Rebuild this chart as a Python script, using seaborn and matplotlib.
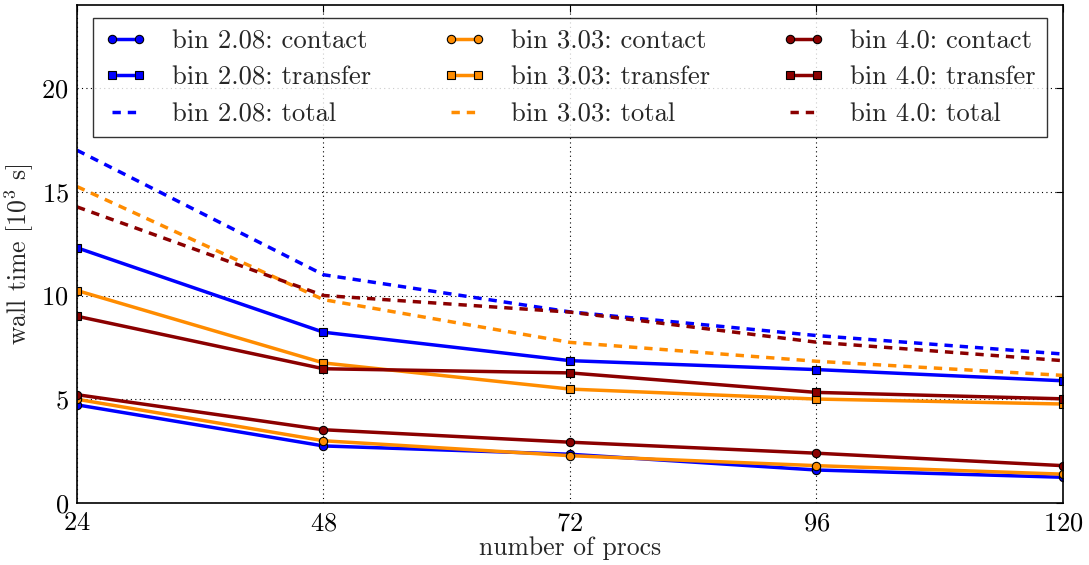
import matplotlib
matplotlib.use("Agg")
import matplotlib.pyplot as plt
import seaborn as sns
import pandas as pd

procs = [24, 48, 72, 96, 120]
bins = ["2.08", "3.03", "4.0"]
colors = {"2.08": "#0000ff", "3.03": "#ff8c00", "4.0": "#8b0000"}

contact = {
    "2.08": [4.73, 2.75, 2.35, 1.59, 1.24],
    "3.03": [5.00, 3.00, 2.28, 1.80, 1.39],
    "4.0":  [5.22, 3.53, 2.93, 2.40, 1.80],
}
transfer = {
    "2.08": [12.3, 8.23, 6.86, 6.43, 5.89],
    "3.03": [10.24, 6.75, 5.49, 5.01, 4.77],
    "4.0":  [9.0, 6.47, 6.27, 5.33, 5.02],
}
total = {
    "2.08": [17.0, 11.0, 9.21, 8.07, 7.18],
    "3.03": [15.25, 9.8, 7.74, 6.83, 6.15],
    "4.0":  [14.27, 10.0, 9.2, 7.75, 6.86],
}
xticks = [24, 48, 72, 96, 120]
yticks = [0, 5, 10, 15, 20]

sns.set_style("white")
plt.rcParams["font.family"] = ["cmr10", "DejaVu Serif"]
plt.rcParams["mathtext.fontset"] = "cm"
plt.rcParams["axes.formatter.use_mathtext"] = True

fig = plt.figure(figsize=(10.89, 5.65), dpi=100)
ax = fig.add_axes([77 / 1089, 62 / 565, (1063 - 77) / 1089, (503 - 5) / 565])

renderer = fig.canvas.get_renderer()
probe = fig.text(0, 0, "bin 2.08: contact", fontsize=10)
w10 = probe.get_window_extent(renderer).width
probe.remove()
lfs = 10 * 195.0 / w10
em = lfs * 100 / 72.0

for b in bins:
    c = colors[b]
    df = pd.DataFrame({"procs": procs, "v": contact[b]})
    sns.lineplot(data=df, x="procs", y="v", ax=ax, color=c, lw=2.5, marker="o",
                 markersize=6, markeredgecolor="black", markeredgewidth=0.8,
                 label=f"bin {b}: contact")
    df = pd.DataFrame({"procs": procs, "v": transfer[b]})
    sns.lineplot(data=df, x="procs", y="v", ax=ax, color=c, lw=2.5, marker="s",
                 markersize=6, markeredgecolor="black", markeredgewidth=0.8,
                 label=f"bin {b}: transfer")
    df = pd.DataFrame({"procs": procs, "v": total[b]})
    sns.lineplot(data=df, x="procs", y="v", ax=ax, color=c, lw=2.5,
                 linestyle=(0, (2.4, 2.0)), label=f"bin {b}: total")

ax.set_xlim(24, 120)
ax.set_ylim(0, 24)
ax.set_xticks(xticks)
ax.set_yticks(yticks)
ax.tick_params(direction="in", top=True, right=True, labelsize=19, length=5,
               width=0.8, pad=6, colors="black")
ax.grid(True, color="black", linestyle=(0, (1, 3)), linewidth=0.8)
for s in ax.spines.values():
    s.set_color("black")
    s.set_linewidth(1.2)
ax.set_xlabel("number of procs", fontsize=18.5, labelpad=1)
ax.set_ylabel("wall time [$10^3$ s]", fontsize=18.5, labelpad=4)

handles, labels = ax.get_legend_handles_labels()
if ax.get_legend() is not None:
    ax.get_legend().remove()


def make_legend(ls, bp):
    lg = ax.legend(handles, labels, ncol=3, loc="upper center", fontsize=lfs,
                   numpoints=2, handlelength=43 / em, handletextpad=25 / em,
                   columnspacing=72 / em, labelspacing=ls,
                   fancybox=False, frameon=True, borderpad=bp, borderaxespad=0,
                   bbox_to_anchor=(0.5, 1 - 13.3 / 498))
    lg.get_frame().set_edgecolor("black")
    lg.get_frame().set_linewidth(1.0)
    return lg


ls, bp = 0.3, 11.0 / em
for _ in range(3):
    leg = make_legend(ls, bp)
    fig.canvas.draw()
    texts = leg.get_texts()
    y0 = texts[0].get_window_extent(renderer).y0
    y1 = texts[1].get_window_extent(renderer).y0
    pitch = y0 - y1
    ls += (36.7 - pitch) / em
    leg.remove()
leg = make_legend(ls, bp)

fig.savefig("out.png", dpi=100)
